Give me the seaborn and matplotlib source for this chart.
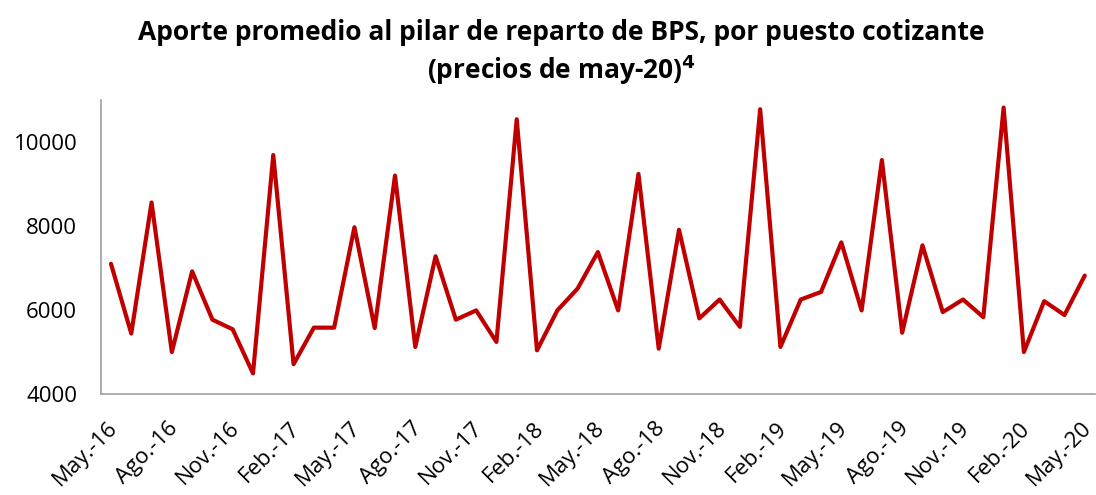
import pandas as pd
import seaborn as sns
import matplotlib.pyplot as plt
from matplotlib.transforms import ScaledTranslation

# Monthly average contribution, May-16 .. May-20
months = ['May-16', 'Jun-16', 'Jul-16', 'Ago-16', 'Sep-16', 'Oct-16', 'Nov-16', 'Dic-16',
          'Ene-17', 'Feb-17', 'Mar-17', 'Abr-17', 'May-17', 'Jun-17', 'Jul-17', 'Ago-17',
          'Sep-17', 'Oct-17', 'Nov-17', 'Dic-17', 'Ene-18', 'Feb-18', 'Mar-18', 'Abr-18',
          'May-18', 'Jun-18', 'Jul-18', 'Ago-18', 'Sep-18', 'Oct-18', 'Nov-18', 'Dic-18',
          'Ene-19', 'Feb-19', 'Mar-19', 'Abr-19', 'May-19', 'Jun-19', 'Jul-19', 'Ago-19',
          'Sep-19', 'Oct-19', 'Nov-19', 'Dic-19', 'Ene-20', 'Feb-20', 'Mar-20', 'Abr-20',
          'May-20']
aporte = [7100, 5440, 8560, 5000, 6920, 5770, 5540, 4490,
          9690, 4710, 5580, 5580, 7970, 5570, 9200, 5120,
          7280, 5770, 5990, 5240, 10540, 5040, 5990, 6510,
          7380, 5990, 9240, 5080, 7910, 5800, 6250, 5600,
          10780, 5120, 6250, 6430, 7610, 5990, 9570, 5460,
          7540, 5950, 6250, 5830, 10820, 5000, 6210, 5880,
          6820]
tick_labels = ['May.-16', 'Ago.-16', 'Nov.-16', 'Feb.-17', 'May.-17', 'Ago.-17',
               'Nov.-17', 'Feb.-18', 'May.-18', 'Ago.-18', 'Nov.-18', 'Feb.-19',
               'May.-19', 'Ago.-19', 'Nov.-19', 'Feb.-20', 'May.-20']

df = pd.DataFrame({'mes': range(len(months)), 'aporte': aporte})

sns.set_style('white')
plt.rcParams['font.family'] = ['Open Sans', 'DejaVu Sans']
plt.rcParams['text.color'] = 'black'

fig = plt.figure(figsize=(10.96, 4.95), dpi=100)
ax = fig.add_axes([0.092, 0.204, 0.907, 0.594])

sns.lineplot(data=df, x='mes', y='aporte', color='#C00000', linewidth=3, ax=ax)

ax.set_xlim(-0.5, 48.5)
ax.set_ylim(4000, 11000)
ax.set_yticks([4000, 6000, 8000, 10000])
ax.set_xticks(range(0, len(months), 3))
ax.set_xticklabels(tick_labels, rotation=45, ha='right', rotation_mode='anchor')
ax.tick_params(axis='both', length=0, labelsize=16, colors='black')
ax.tick_params(axis='x', pad=17)
ax.tick_params(axis='y', pad=17)
ax.set_xlabel('')
ax.set_ylabel('')

# keep the last rotated label inside the canvas
shift = ScaledTranslation(-3 / 72, 0, fig.dpi_scale_trans)
for lbl in ax.get_xticklabels():
    lbl.set_transform(lbl.get_transform() + shift)

for side in ['top', 'right']:
    ax.spines[side].set_visible(False)
for side in ['left', 'bottom']:
    ax.spines[side].set_color('#A0A0A0')
    ax.spines[side].set_linewidth(1.2)

fig.suptitle('Aporte promedio al pilar de reparto de BPS, por puesto cotizante\n'
             '(precios de may-20)$^{\\mathbf{4}}$',
             x=0.512, y=0.962, fontsize=19, fontweight='bold', linespacing=1.25,
             color='black')

fig.savefig('out.png', dpi=100)
